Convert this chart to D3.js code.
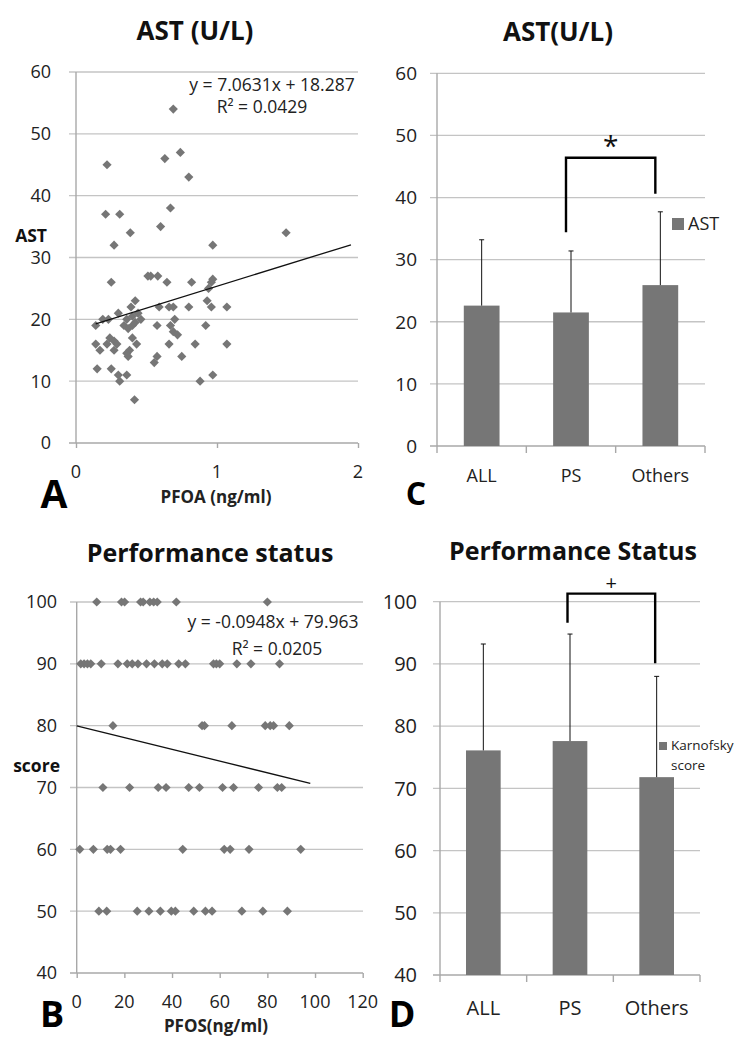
<!DOCTYPE html>
<html>
<head>
<meta charset="utf-8">
<script src="https://cdn.jsdelivr.net/npm/d3@7"></script>
<style>
  body { margin: 0; background: #fff; }
  svg { font-family: "Open Sans", Lato, sans-serif; }
  .grid line { stroke: #c4c4c4; stroke-width: 1.3; }
  .axis path, .axis line { stroke: #a8a8a8; stroke-width: 1.4; }
</style>
</head>
<body>
<div id="chart"></div>
<script>
// Panel A: PFOA (ng/ml) vs AST (U/L)
const pfoaAst = [
  [0.69,54],[0.22,45],[0.63,46],[0.74,47],[0.80,43],[0.21,37],[0.31,37],[0.67,38],[0.385,34],[0.60,35],
  [0.27,32],[0.97,32],[1.49,34],[0.25,26],[0.51,27],[0.53,27],[0.58,27],[0.645,26],[0.82,26],[0.96,26],
  [0.97,26.5],[0.94,25],[0.93,23],[0.96,22],[1.07,22],[0.80,22],[0.59,22],[0.66,22],[0.69,22],[0.42,23],
  [0.39,22],[0.44,21],[0.30,21],[0.19,20],[0.23,20],[0.14,19],[0.36,20],[0.40,20.5],[0.42,19.5],[0.46,20],
  [0.34,19],[0.37,18.5],[0.40,19],[0.70,20],[0.67,19],[0.69,18],[0.72,17.5],[0.575,19],[0.92,19],[0.24,17],
  [0.27,16.5],[0.22,16],[0.29,16],[0.40,17],[0.43,16],[0.38,15],[0.36,14.5],[0.14,16],[0.17,15],[0.27,15],
  [0.66,16],[0.845,16],[1.07,16],[0.37,14],[0.575,14],[0.555,13],[0.75,14],[0.15,12],[0.25,12],[0.30,11],
  [0.36,11],[0.31,10],[0.88,10],[0.97,11],[0.415,7]
];
const trendA = { slope: 7.0631, intercept: 18.287, r2: "0.0429", from: 0.14, to: 1.95 };

// Panel B: PFOS (ng/ml) vs Karnofsky score
const psScores = [100, 90, 80, 70, 60, 50];
const pfosByScore = [
  [8.4, 18.8, 20.1, 26.8, 27.9, 30.7, 32.3, 33.8, 41.8, 80],
  [1.7, 3.1, 4.5, 5.9, 10.3, 17.3, 21.2, 23.3, 25.7, 29.3, 32.6, 35.9, 38, 42.8, 45.6, 57.4, 58.6, 60, 67.2, 73.1, 85.1],
  [15.2, 52.6, 53.6, 65.1, 79.1, 81.2, 82.6, 89.2],
  [11, 22.2, 34.2, 37.5, 47, 51.5, 61.2, 65.8, 76.3, 84.2, 86],
  [1.3, 7, 12.8, 14.2, 18.4, 44.5, 61.9, 64.4, 72.3, 94],
  [9.3, 12.6, 25.4, 30.3, 35.1, 39.7, 41.4, 49.1, 54, 56.8, 69.3, 78.1, 88.4]
];
const trendB = { slope: -0.0948, intercept: 79.963, r2: "0.0205", from: 0, to: 98 };

// Panels C and D: group means with SD
const groups = ["ALL", "PS", "Others"];
const astMean = [22.6, 21.5, 25.9];
const astSD = [10.6, 9.9, 11.8];
const ksMean = [76.1, 77.6, 71.8];
const ksSD = [17.1, 17.2, 16.2];
// significance brackets: [left bottom, top, right bottom]
const astBracket = [34.4, 46.4, 40.6];
const ksBracket = [96.6, 101.3, 90.1];

const W = 738, H = 1039;
const svg = d3.select("#chart").append("svg").attr("width", W).attr("height", H);

const gray = "#767676";
const diamond = d3.symbol().type(d3.symbolSquare).size(42);

function grid(g, y, ticks, x0, x1) {
  const gg = g.append("g").attr("class", "grid");
  gg.selectAll("line").data(ticks).join("line")
    .attr("x1", x0).attr("x2", x1)
    .attr("y1", d => y(d)).attr("y2", d => y(d));
}

function yLabels(g, y, ticks, xr, size) {
  g.append("g").selectAll("text").data(ticks).join("text")
    .attr("x", xr).attr("y", d => y(d)).attr("dy", "0.36em")
    .attr("text-anchor", "end").style("font-size", size + "px").attr("fill", "#222")
    .text(d => d);
}

function txt(x, y, s, size, opts = {}) {
  return svg.append("text").attr("x", x).attr("y", y)
    .attr("text-anchor", opts.anchor || "middle")
    .style("font-size", size + "px")
    .style("font-weight", opts.bold ? "bold" : "normal")
    .attr("fill", opts.fill || "#222")
    .text(s);
}

// ---------- Panel A ----------
{
  const x = d3.scaleLinear().domain([0, 2]).range([76, 358]);
  const y = d3.scaleLinear().domain([0, 60]).range([443, 72]);
  const g = svg.append("g");
  grid(g, y, d3.range(10, 61, 10), 69, 358);
  const ax = g.append("g").attr("class", "axis").attr("transform", `translate(0,${y(0)})`)
    .call(d3.axisBottom(x).tickValues([0, 1, 2]).tickSize(5).tickFormat(""));
  ax.select(".domain").attr("d", `M69,0H358`);
  g.append("line").attr("x1", x(0)).attr("x2", x(0))
    .attr("y1", y(60)).attr("y2", y(0)).attr("stroke", "#a8a8a8").attr("stroke-width", 1.4);
  yLabels(g, y, d3.range(0, 61, 10), 51, 18);
  g.append("g").selectAll("text").data([0, 1, 2]).join("text")
    .attr("x", d => x(d)).attr("y", 478).attr("text-anchor", "middle")
    .style("font-size", "18px").attr("fill", "#222").text(d => d);

  g.append("g").selectAll("path").data(pfoaAst).join("path")
    .attr("d", diamond).attr("fill", gray)
    .attr("transform", d => `translate(${x(d[0])},${y(d[1])}) rotate(45)`);

  const t = trendA;
  g.append("line")
    .attr("x1", x(t.from)).attr("y1", y(t.slope * t.from + t.intercept))
    .attr("x2", x(t.to)).attr("y2", y(t.slope * t.to + t.intercept))
    .attr("stroke", "#111").attr("stroke-width", 1.3);

  txt(272, 91, "y = 7.0631x + 18.287", 17.5);
  txt(262, 113, "R² = " + t.r2, 17.5);
  txt(195, 40, "AST (U/L)", 26, { bold: true, fill: "#111" });
  txt(47, 242, "AST", 17.5, { bold: true, anchor: "end", fill: "#111" });
  txt(216, 503, "PFOA (ng/ml)", 17, { bold: true });
  txt(54, 508, "A", 39, { bold: true, fill: "#000" });
}

// ---------- Panel B ----------
{
  const x = d3.scaleLinear().domain([0, 120]).range([76.7, 362.7]);
  const y = d3.scaleLinear().domain([40, 100]).range([973, 602]);
  const g = svg.append("g");
  grid(g, y, d3.range(50, 101, 10), 70, 363);
  const ax = g.append("g").attr("class", "axis").attr("transform", `translate(0,${y(40)})`)
    .call(d3.axisBottom(x).tickValues(d3.range(0, 121, 20)).tickSize(5).tickFormat(""));
  ax.select(".domain").attr("d", `M70,0H363`);
  g.append("line").attr("x1", x(0)).attr("x2", x(0))
    .attr("y1", y(100)).attr("y2", y(40)).attr("stroke", "#a8a8a8").attr("stroke-width", 1.4);
  yLabels(g, y, d3.range(40, 101, 10), 57, 18);
  g.append("g").selectAll("text").data(d3.range(0, 121, 20)).join("text")
    .attr("x", d => x(d)).attr("y", 1008).attr("text-anchor", "middle")
    .style("font-size", "18px").attr("fill", "#222").text(d => d);

  const pts = psScores.flatMap((s, i) => pfosByScore[i].map(p => [p, s]));
  g.append("g").selectAll("path").data(pts).join("path")
    .attr("d", diamond).attr("fill", gray)
    .attr("transform", d => `translate(${x(d[0])},${y(d[1])}) rotate(45)`);

  const t = trendB;
  g.append("line")
    .attr("x1", x(t.from)).attr("y1", y(t.slope * t.from + t.intercept))
    .attr("x2", x(t.to)).attr("y2", y(t.slope * t.to + t.intercept))
    .attr("stroke", "#111").attr("stroke-width", 1.3);

  txt(273, 628, "y = -0.0948x + 79.963", 17.5);
  txt(277, 655, "R² = " + t.r2, 17.5);
  txt(210, 562, "Performance status", 25, { bold: true, fill: "#111" });
  txt(60, 772, "score", 17.5, { bold: true, anchor: "end", fill: "#111" });
  txt(216, 1032, "PFOS(ng/ml)", 17, { bold: true });
  txt(52, 1027, "B", 36, { bold: true, fill: "#000" });
}

// ---------- bar panels ----------
function barPanel(o) {
  const x = d3.scaleBand().domain(groups).range(o.xr);
  const y = d3.scaleLinear().domain(o.yd).range(o.yr);
  const g = svg.append("g");
  const ticks = d3.range(o.yd[0], o.yd[1] + 1, 10);
  grid(g, y, ticks.slice(1), o.xr[0] - 7, o.xr[1]);
  const ax = g.append("g").attr("class", "axis").attr("transform", `translate(0,${y(o.yd[0])})`)
    .call(d3.axisBottom(x).tickSize(0).tickFormat(""));
  ax.select(".domain").attr("d", `M${o.xr[0] - 7},0H${o.xr[1]}`);
  g.append("g").selectAll("line").data(d3.range(4)).join("line")
    .attr("x1", i => o.xr[0] + i * x.step()).attr("x2", i => o.xr[0] + i * x.step())
    .attr("y1", y(o.yd[0])).attr("y2", y(o.yd[0]) + 7)
    .attr("stroke", "#a8a8a8").attr("stroke-width", 1.4);
  g.append("line").attr("x1", o.xr[0]).attr("x2", o.xr[0])
    .attr("y1", y(o.yd[1])).attr("y2", y(o.yd[0])).attr("stroke", "#a8a8a8").attr("stroke-width", 1.4);
  yLabels(g, y, ticks, 417, o.tickSize);

  const bw = x.bandwidth() * 0.4;
  const cx = d => x(d) + x.bandwidth() / 2;
  g.append("g").selectAll("rect").data(groups).join("rect")
    .attr("x", d => cx(d) - bw / 2).attr("width", bw)
    .attr("y", (d, i) => y(o.mean[i])).attr("height", (d, i) => y(o.yd[0]) - y(o.mean[i]))
    .attr("fill", gray);
  const eb = g.append("g").attr("stroke", "#111").attr("stroke-width", 1);
  eb.selectAll(".v").data(groups).join("line")
    .attr("x1", cx).attr("x2", cx)
    .attr("y1", (d, i) => y(o.mean[i])).attr("y2", (d, i) => y(o.mean[i] + o.sd[i]));
  eb.selectAll(".c").data(groups).join("line")
    .attr("x1", d => cx(d) - 2.5).attr("x2", d => cx(d) + 2.5)
    .attr("y1", (d, i) => y(o.mean[i] + o.sd[i])).attr("y2", (d, i) => y(o.mean[i] + o.sd[i]));

  g.append("g").selectAll("text").data(groups).join("text")
    .attr("x", cx).attr("y", o.catY).attr("text-anchor", "middle")
    .style("font-size", o.catSize + "px").attr("fill", "#222").text(d => d);

  const b = o.bracket;
  const lx = cx("PS") - o.bOff[0], rx = cx("Others") - o.bOff[1];
  g.append("path")
    .attr("d", `M${lx},${y(b[0])}V${y(b[1])}H${rx}V${y(b[2])}`)
    .attr("fill", "none").attr("stroke", "#000").attr("stroke-width", 2.4);
  txt((lx + rx) / 2, y(b[1]) - o.markDy, o.mark, o.markSize, { fill: "#111" });

  g.append("rect").attr("x", o.legend.x).attr("y", o.legend.y)
    .attr("width", o.legend.s).attr("height", o.legend.s).attr("fill", gray);
  o.legend.lines.forEach((s, i) => {
    txt(o.legend.x + o.legend.s + 4, o.legend.ty + i * o.legend.lh, s, o.legend.fs, { anchor: "start" });
  });

  txt(o.title.x, o.title.y, o.title.s, o.title.fs, { bold: true, fill: "#111" });
  txt(o.letter.x, o.letter.y, o.letter.s, o.letter.fs, { bold: true, fill: "#000" });
}

barPanel({
  xr: [437, 705], yd: [0, 60], yr: [446, 73.3],
  mean: astMean, sd: astSD, bracket: astBracket, bOff: [5, 5],
  mark: "*", markSize: 28, markDy: 2, catY: 481.5, catSize: 18, tickSize: 19,
  legend: { x: 672, y: 218, s: 12, ty: 230, lh: 0, fs: 18, lines: ["AST"] },
  title: { x: 558, y: 41, s: "AST(U/L)", fs: 26 },
  letter: { x: 416, y: 505, s: "C", fs: 32 }
});

barPanel({
  xr: [440, 700], yd: [40, 100], yr: [975, 601.7],
  mean: ksMean, sd: ksSD, bracket: ksBracket, bOff: [2.5, 1.5],
  mark: "+", markSize: 20, markDy: 4, catY: 1015, catSize: 20, tickSize: 20,
  legend: { x: 659, y: 742, s: 8, ty: 750, lh: 20, fs: 13.5, lines: ["Karnofsky", "score"] },
  title: { x: 573, y: 560, s: "Performance Status", fs: 25 },
  letter: { x: 402, y: 1027, s: "D", fs: 36 }
});
</script>
</body>
</html>
